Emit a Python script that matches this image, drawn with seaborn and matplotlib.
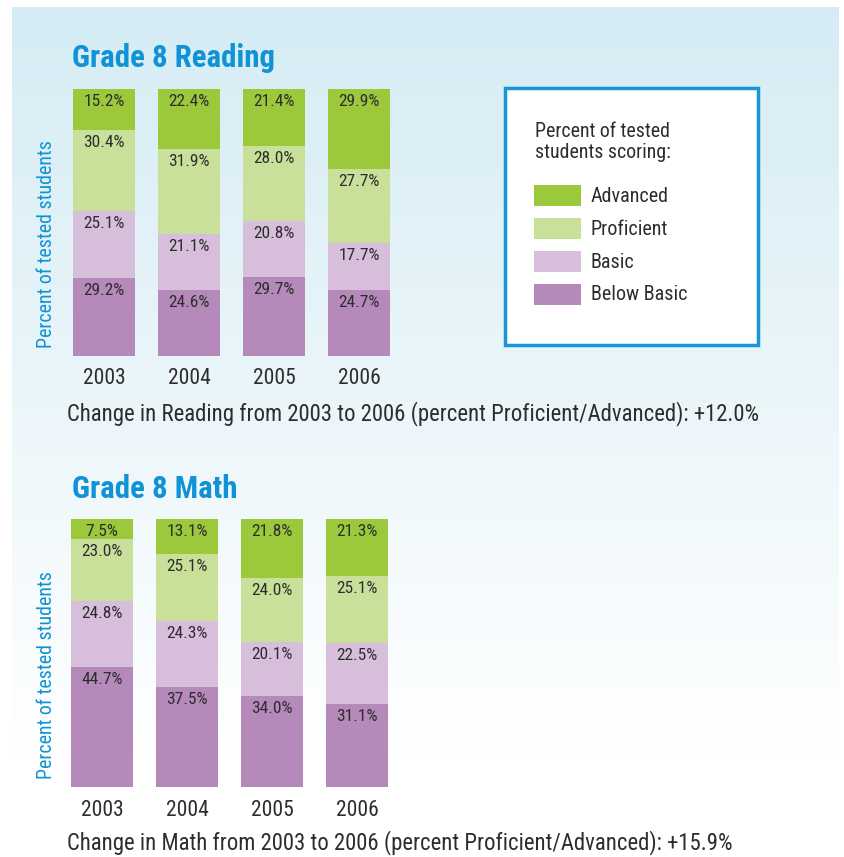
import numpy as np
import pandas as pd
import matplotlib
matplotlib.use("Agg")
import matplotlib.pyplot as plt
import seaborn as sns
from matplotlib import font_manager
from matplotlib.patches import Rectangle

years = ["2003", "2004", "2005", "2006"]
levels = ["Advanced", "Proficient", "Basic", "Below Basic"]

reading_advanced = [15.2, 22.4, 21.4, 29.9]
reading_proficient = [30.4, 31.9, 28.0, 27.7]
reading_basic = [25.1, 21.1, 20.8, 17.7]
reading_below = [29.2, 24.6, 29.7, 24.7]

math_advanced = [7.5, 13.1, 21.8, 21.3]
math_proficient = [23.0, 25.1, 24.0, 25.1]
math_basic = [24.8, 24.3, 20.1, 22.5]
math_below = [44.7, 37.5, 34.0, 31.1]

reading_change = "+12.0%"
math_change = "+15.9%"

colors = {"Advanced": "#9cc83b", "Proficient": "#c9e09b",
          "Basic": "#d7bedb", "Below Basic": "#b689bb"}
BLUE = "#0f93d6"
TEXT = "#2d2d2d"

sns.set_style("white")
# pick a narrow font if one is installed
avail = {f.name for f in font_manager.fontManager.ttflist}
fam = next(f for f in ["Roboto Condensed", "Liberation Sans Narrow",
                       "DejaVu Sans Condensed", "Roboto", "DejaVu Sans"] if f in avail)
plt.rcParams["font.family"] = [fam, "DejaVu Sans"]

W, H = 844, 857
fig = plt.figure(figsize=(W / 100, H / 100), dpi=100)

# background panel with vertical gradient
bg = fig.add_axes([0, 0, 1, 1], zorder=-10)
bg.set_xlim(0, W); bg.set_ylim(H, 0); bg.axis("off")
grad = np.linspace(0, 1, 256)[:, None]
top = np.array([0.835, 0.925, 0.957])
ramp = np.clip(grad / 0.88, 0, 1)
img = top[None, None, :] * (1 - ramp[:, :, None]) + ramp[:, :, None] * 1.0
bg.imshow(img, extent=[12, 839, 857, 7], aspect="auto")


def px_axes(left, top_px, width, height):
    return fig.add_axes([left / W, 1 - (top_px + height) / H, width / W, height / H])


def stacked(ax, adv, prof, basic, below, title, change, title_y, ylab_y, cap_y):
    df = pd.DataFrame({"year": years, "Advanced": adv, "Proficient": prof,
                       "Basic": basic, "Below Basic": below})
    df["c_below"] = df["Below Basic"]
    df["c_basic"] = df["c_below"] + df["Basic"]
    df["c_prof"] = df["c_basic"] + df["Proficient"]
    df["c_adv"] = df["c_prof"] + df["Advanced"]
    for col, lvl in [("c_adv", "Advanced"), ("c_prof", "Proficient"),
                     ("c_basic", "Basic"), ("c_below", "Below Basic")]:
        sns.barplot(data=df, x="year", y=col, color=colors[lvl], width=62 / 85,
                    saturation=1, linewidth=0, ax=ax)
        for i, (t, v) in enumerate(zip(df[col], df[lvl])):
            ax.annotate(f"{v:.1f}%", xy=(i, t), xytext=(0, -5),
                        textcoords="offset pixels", ha="center", va="top",
                        fontsize=12.5, color=TEXT)
    ax.set_xlim(-0.5, 3.5)
    ax.set_ylim(0, 100)
    ax.set_facecolor("none")
    sns.despine(ax=ax, left=True, bottom=True)
    ax.set_yticks([])
    ax.tick_params(axis="x", length=0, pad=9, labelsize=15.5, labelcolor=TEXT)
    ax.set_xlabel("")
    ax.set_ylabel("")
    fig.text(47 / W, 1 - ylab_y / H, "Percent of tested students", color=BLUE,
             fontsize=14.3, rotation=90, ha="center", va="center")
    fig.text(72 / W, 1 - title_y / H, title, fontsize=22.2,
             fontweight="bold", color=BLUE, va="center", ha="left")
    subject = title.split()[-1]
    fig.text(67 / W, 1 - cap_y / H,
             f"Change in {subject} from 2003 to 2006 (percent Proficient/Advanced): {change}",
             fontsize=16.4, color=TEXT, va="center", ha="left")


ax1 = px_axes(61.5, 89, 340, 267)
stacked(ax1, reading_advanced, reading_proficient, reading_basic, reading_below,
        "Grade 8 Reading", reading_change, 58, 244, 414)

ax2 = px_axes(59.5, 519, 340, 268)
stacked(ax2, math_advanced, math_proficient, math_basic, math_below,
        "Grade 8 Math", math_change, 489, 675, 843)

# legend box
bg.add_patch(Rectangle((505, 88), 253, 257, facecolor="white",
                       edgecolor="#1a96d6", linewidth=2.5, zorder=5))
bg.text(535, 142, "Percent of tested\nstudents scoring:", fontsize=14.3,
        color=TEXT, va="center", ha="left", zorder=6, linespacing=1.1)
for k, lvl in enumerate(levels):
    y = 185 + k * 33
    bg.add_patch(Rectangle((534, y), 47, 21, facecolor=colors[lvl],
                           edgecolor="none", zorder=6))
    bg.text(591, y + 11, lvl, fontsize=14.5, color=TEXT, va="center",
            ha="left", zorder=6)

fig.savefig("out.png", dpi=100)
